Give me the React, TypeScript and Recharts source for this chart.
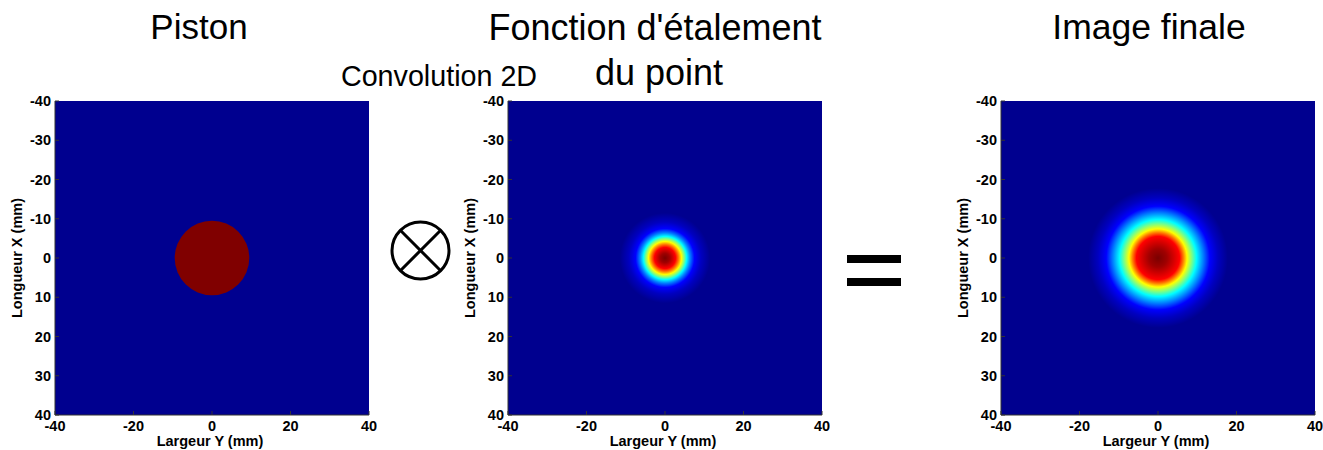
import React from 'react';
import { ScatterChart, Scatter, XAxis, YAxis, ReferenceArea } from 'recharts';

// ---- axes ----
const AXIS_DOMAIN: [number, number] = [-40, 40];
const X_TICKS = [-40, -20, 0, 20, 40];
const Y_TICKS = [-40, -30, -20, -10, 0, 10, 20, 30, 40];
const TOP_TICKS = [-20, 0, 20];
const RIGHT_TICKS = [-30, -20, -10, 0, 10, 20, 30];

// ---- texts ----
const PANEL_TITLES = ['Piston', "Fonction d'étalement", 'du point', 'Image finale'];
const X_LABEL = 'Largeur Y (mm)';
const Y_LABEL = 'Longueur X (mm)';
const CONV_LABEL = 'Convolution 2D';

// ---- data: centre of each spot (mm) ----
const CENTERS = [{ x: 0, y: 0 }];

// ---- radial profiles: radius (mm) -> jet colour ----
const BACKGROUND = '#00008f';
const PISTON_RADII = [0, 9.5];
const PISTON_COLORS = ['#800000', '#800000'];
const PSF_RADII = [0, 1.2, 2.7, 3.5, 4.2, 4.9, 5.5, 6.4, 7.5, 9.2, 11.5];
const PSF_COLORS = ['#7a0000', '#a00000', '#ff0000', '#ff8000', '#ffff00', '#80ff80', '#00ffff', '#0080ff', '#0000ff', '#0000c0', '#00008f'];
const IMAGE_RADII = [0, 2.3, 5.5, 6.5, 7.4, 8.6, 9.8, 11.5, 13.2, 15.3, 17.8];
const IMAGE_COLORS = ['#7a0000', '#a00000', '#ff0000', '#ff8000', '#ffff00', '#80ff80', '#00ffff', '#0080ff', '#0000ff', '#0000c0', '#00008f'];

const FONT = '"Liberation Sans", Arial, Helvetica, sans-serif';
const FRAME = '#333333';
const tickStyle = { fontSize: 14.5, fontWeight: 'bold' as const, fill: '#000', fontFamily: FONT };

function spotShape(gid: string, radii: number[], colors: string[]) {
  const R = radii[radii.length - 1];
  return (p: any) => {
    const x = Number(p.x);
    const y = Number(p.y);
    const w = Number(p.width);
    const h = Number(p.height);
    return (
      <g>
        <defs>
          <radialGradient id={gid} cx="50%" cy="50%" r="50%">
            {radii.map((r, i) => (
              <stop key={i} offset={r / R} stopColor={colors[i]} />
            ))}
          </radialGradient>
        </defs>
        <ellipse cx={x + w / 2} cy={y + h / 2} rx={Math.abs(w) / 2} ry={Math.abs(h) / 2} fill={`url(#${gid})`} />
      </g>
    );
  };
}

function Panel({ left, gid, radii, colors }: { left: number; gid: string; radii: number[]; colors: string[] }) {
  const R = radii[radii.length - 1];
  return (
    <div style={{ position: 'absolute', left, top: 90 }}>
      <ScatterChart width={377} height={360} margin={{ top: 11, right: 8, left: 0, bottom: 0 }} style={{ fontFamily: FONT }}>
        <ReferenceArea x1={-40} x2={40} y1={-40} y2={40} fill={BACKGROUND} fillOpacity={1} stroke="none" ifOverflow="visible" />
        <ReferenceArea x1={-R} x2={R} y1={-R} y2={R} shape={spotShape(gid, radii, colors)} ifOverflow="visible" />
        <XAxis
          type="number"
          dataKey="x"
          domain={AXIS_DOMAIN}
          ticks={X_TICKS}
          allowDataOverflow
          height={35}
          tickSize={-4}
          tickMargin={10}
          tick={tickStyle}
          stroke={FRAME}
          axisLine={{ stroke: FRAME }}
          tickLine={{ stroke: FRAME }}
        />
        <XAxis
          xAxisId="top"
          orientation="top"
          type="number"
          domain={AXIS_DOMAIN}
          ticks={TOP_TICKS}
          allowDataOverflow
          height={0}
          tickSize={-4}
          tick={false}
          axisLine={{ stroke: FRAME }}
          tickLine={{ stroke: FRAME }}
        />
        <YAxis
          type="number"
          dataKey="y"
          domain={AXIS_DOMAIN}
          ticks={Y_TICKS}
          reversed
          allowDataOverflow
          width={55}
          tickSize={-4}
          tickMargin={8}
          tick={tickStyle}
          axisLine={{ stroke: FRAME }}
          tickLine={{ stroke: FRAME }}
        />
        <YAxis
          yAxisId="right"
          orientation="right"
          type="number"
          domain={AXIS_DOMAIN}
          ticks={RIGHT_TICKS}
          reversed
          allowDataOverflow
          width={0}
          tickSize={-4}
          tick={false}
          axisLine={{ stroke: FRAME }}
          tickLine={{ stroke: FRAME }}
        />
        <Scatter data={CENTERS} fill={colors[0]} fillOpacity={0} isAnimationActive={false} />
      </ScatterChart>
    </div>
  );
}

const PANEL_LEFTS = [0, 453, 946];
const AXIS_TITLE_X = [16.5, 469.5, 962.5];
const PLOT_CENTER_X = [212, 665, 1158];

export default function App() {
  return (
    <div style={{ position: 'absolute', left: 0, top: 0, width: 1323, height: 450, overflow: 'hidden', background: '#fff', fontFamily: FONT }}>
      <Panel left={PANEL_LEFTS[0]} gid="gPiston" radii={PISTON_RADII} colors={PISTON_COLORS} />
      <Panel left={PANEL_LEFTS[1]} gid="gPsf" radii={PSF_RADII} colors={PSF_COLORS} />
      <Panel left={PANEL_LEFTS[2]} gid="gImg" radii={IMAGE_RADII} colors={IMAGE_COLORS} />
      <svg width={1323} height={450} style={{ position: 'absolute', left: 0, top: 0, pointerEvents: 'none' }}>
        <g fontFamily={FONT} fill="#000">
          <text x={199} y={39} fontSize={35} textAnchor="middle">{PANEL_TITLES[0]}</text>
          <text x={655} y={40} fontSize={36} textAnchor="middle">{PANEL_TITLES[1]}</text>
          <text x={659} y={85} fontSize={36} textAnchor="middle">{PANEL_TITLES[2]}</text>
          <text x={1149} y={39} fontSize={35.5} textAnchor="middle">{PANEL_TITLES[3]}</text>
          <text x={439} y={86} fontSize={28.7} textAnchor="middle">{CONV_LABEL}</text>
          {PLOT_CENTER_X.map((cx, i) => (
            <text key={'xl' + i} x={cx - 2} y={446} fontSize={14.5} fontWeight="bold" textAnchor="middle">{X_LABEL}</text>
          ))}
          {AXIS_TITLE_X.map((tx, i) => (
            <text key={'yl' + i} x={tx} y={258} fontSize={14.5} fontWeight="bold" textAnchor="middle" dominantBaseline="central" transform={`rotate(-90 ${tx} 258)`}>{Y_LABEL}</text>
          ))}
        </g>
        <g stroke="#000" strokeWidth={3} fill="none">
          <circle cx={420.5} cy={250.5} r={28.5} />
          <line x1={400.3} y1={230.3} x2={440.7} y2={270.7} />
          <line x1={440.7} y1={230.3} x2={400.3} y2={270.7} />
        </g>
        <rect x={847} y={255} width={54} height={8} fill="#000" />
        <rect x={847} y={278} width={54} height={8} fill="#000" />
      </svg>
    </div>
  );
}
